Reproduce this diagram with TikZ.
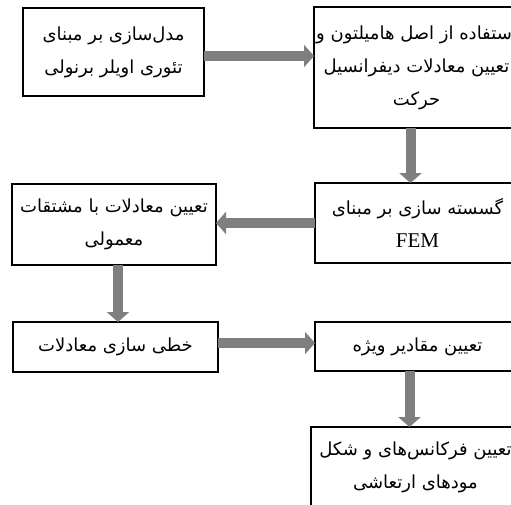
\documentclass[tikz,border=0pt]{standalone}
\usepackage{fontspec}
\setmainfont{Liberation Serif}
\newfontfamily\fa[Script=Arabic]{DejaVu Sans}
\TeXXeTstate=1
\usetikzlibrary{arrows.meta}
\definecolor{arrowgray}{RGB}{127,127,127}
\newcommand{\rl}[1]{\beginR #1\endR}
\begin{document}
\begin{tikzpicture}[x=1pt,y=-1pt,
  box/.style={draw=black, line width=1.9pt, anchor=north west, align=center,
    inner sep=0pt, outer sep=0pt, font=\fa\fontsize{18}{33}\selectfont},
  bigarrow/.style={draw=arrowgray, line width=10pt,
    -{Triangle[width=22pt,length=10pt]}}]
\useasboundingbox (0,0) rectangle (511,504);
\fill[white] (0,0) rectangle (511,504);
\clip (0,0) rectangle (511,504);

\node[box, minimum width=181pt, minimum height=88pt] (b1) at (23,8)
  {\rl{مدل‌سازی بر مبنای}\\\rl{تئوری اویلر برنولی}};
\node[box, minimum width=205pt, minimum height=121pt] (b2) at (314,7)
  {\rl{استفاده از اصل هامیلتون و}\\\rl{تعیین معادلات دیفرانسیل}\\\rl{حرکت}};
\node[box, minimum width=204pt, minimum height=81pt] (b3) at (12,184)
  {\rl{تعیین معادلات با مشتقات}\\\rl{معمولی}};
\node[box, minimum width=205pt, minimum height=80pt] (b4) at (315,183)
  {\rl{گسسته سازی بر مبنای}\\{\rmfamily\fontsize{21}{33}\selectfont FEM}};
\node[box, minimum width=205pt, minimum height=50pt] (b5) at (13,322)
  {\rl{خطی سازی معادلات}};
\node[box, minimum width=205pt, minimum height=49pt] (b6) at (315,322)
  {\rl{تعیین مقادیر ویژه}};
\node[box, minimum width=209pt, minimum height=80pt] (b7) at (311,427)
  {\rl{تعیین فرکانس‌های و شکل}\\\rl{مودهای ارتعاشی}};

\coordinate (a1) at ([yshift=-4pt]b1.east);
\draw[bigarrow] (a1) -- (a1 -| b2.west);
\coordinate (a2) at ([xshift=-6pt]b2.south);
\draw[bigarrow] (a2) -- (a2 |- b4.north);
\draw[bigarrow] (b4.west) -- (b4.west -| b3.east);
\coordinate (a4) at ([xshift=4pt]b3.south);
\draw[bigarrow] (a4) -- (a4 |- b5.north);
\coordinate (a5) at ([yshift=4pt]b5.east);
\draw[bigarrow] (a5) -- (a5 -| b6.west);
\coordinate (a6) at ([xshift=-8pt]b6.south);
\draw[bigarrow] (a6) -- (a6 |- b7.north);
\end{tikzpicture}
\end{document}
